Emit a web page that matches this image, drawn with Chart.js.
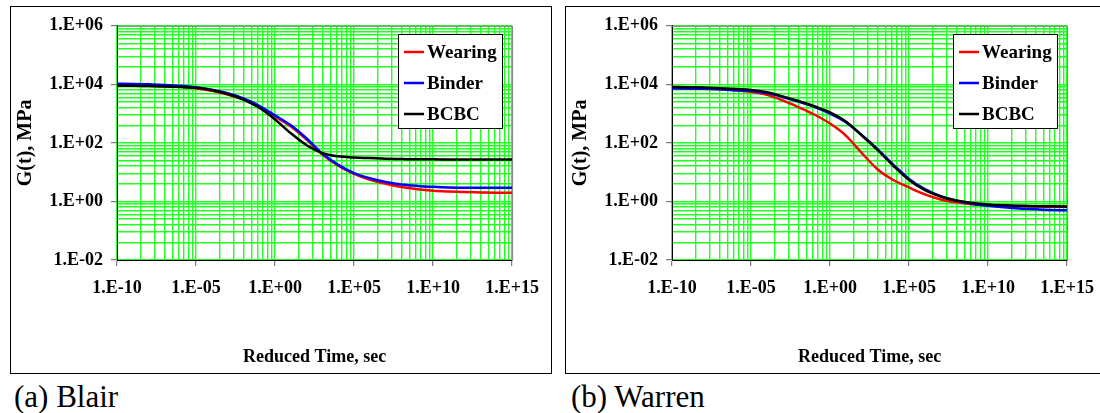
<!DOCTYPE html>
<html>
<head>
<meta charset="utf-8">
<script src="https://cdn.jsdelivr.net/npm/chart.js@4.4.1/dist/chart.umd.min.js"></script>
<style>
  body { margin: 0; background: #fff; width: 1100px; height: 413px; overflow: hidden; position: relative;
         font-family: 'Liberation Serif', 'Times New Roman', serif; }
  .panel { position: absolute; top: 6px; width: 540px; height: 366px; border: 1px solid #000; background: #fff; }
  .panel canvas { display: block; }
  .cap { position: absolute; top: 381px; font-size: 31px; line-height: 31px; color: #000; white-space: nowrap; }
</style>
</head>
<body>
<div class="panel" style="left:10px"><canvas id="blair" width="540" height="366"></canvas></div>
<div class="panel" style="left:565px"><canvas id="warren" width="540" height="366"></canvas></div>
<div class="cap" style="left:14px">(a) Blair</div>
<div class="cap" style="left:571px">(b) Warren</div>
<script>
// reduced time, sec (one point per decade)
const reducedTime = [1e-10, 1e-9, 1e-8, 1e-7, 1e-6, 1e-5, 1e-4, 1e-3, 1e-2, 1e-1, 1e0,
                     1e1, 1e2, 1e3, 1e4, 1e5, 1e6, 1e7, 1e8, 1e9, 1e10, 1e11, 1e12, 1e13, 1e14, 1e15];

// G(t), MPa  -- (a) Blair
const blairWearing = [9550, 9400, 9120, 8710, 8320, 7410, 6030, 4470, 3020, 1700, 794,
                      363, 129, 39.8, 16.6, 8.7, 5.5, 4.0, 3.1, 2.63, 2.34, 2.19, 2.09, 2.04, 2.0, 2.0];
const blairBinder  = [10500, 10350, 10000, 9550, 8910, 7940, 6610, 5010, 3310, 1860, 871,
                      398, 141, 42.7, 17.8, 9.3, 6.2, 4.6, 3.8, 3.4, 3.16, 3.0, 2.95, 2.92, 2.92, 2.92];
const blairBCBC    = [8910, 8910, 8710, 8510, 8130, 7590, 6310, 4680, 3020, 1580, 631,
                      214, 83, 44.7, 34.7, 31.6, 30.2, 28.8, 28.2, 27.5, 27.5, 27.2, 26.9, 26.9, 26.9, 26.9];

// G(t), MPa  -- (b) Warren
const warrenWearing = [7590, 7410, 7240, 6920, 6310, 5500, 4370, 2820, 1660, 933, 457,
                       178, 45.7, 12.6, 5.4, 3.0, 1.75, 1.17, 0.93, 0.81, 0.76, 0.72, 0.69, 0.68, 0.66, 0.66];
const warrenBinder  = [7240, 7240, 7080, 6760, 6310, 5890, 5010, 3720, 2570, 1700, 1000,
                       513, 186, 61.7, 18.2, 5.9, 2.63, 1.51, 1.05, 0.83, 0.71, 0.63, 0.575, 0.54, 0.51, 0.5];
const warrenBCBC    = [8130, 7940, 7760, 7410, 6920, 6460, 5370, 3890, 2690, 1780, 1100,
                       537, 182, 57.5, 16.6, 5.4, 2.45, 1.48, 1.07, 0.89, 0.79, 0.74, 0.71, 0.69, 0.68, 0.66];

const seriesNames  = ['Wearing', 'Binder', 'BCBC'];
const seriesColors = ['#ff0000', '#0000ff', '#000000'];

const xTickValues = [1e-10, 1e-5, 1e0, 1e5, 1e10, 1e15];
const xTickLabels = ['1.E-10', '1.E-05', '1.E+00', '1.E+05', '1.E+10', '1.E+15'];
const yTickValues = [1e-2, 1e0, 1e2, 1e4, 1e6];
const yTickLabels = ['1.E-02', '1.E+00', '1.E+02', '1.E+04', '1.E+06'];

const FONT = "'Liberation Serif', 'Times New Roman', serif";

// excel style log grid: 8 minor lines inside every major step
function gridTicks(majors, power) {
  const out = [];
  majors.forEach((m, j) => {
    out.push({ value: m, major: true });
    if (j < majors.length - 1) {
      for (let n = 2; n <= 9; n++) out.push({ value: m * Math.pow(n, power), major: false });
    }
  });
  return out;
}

function labelFor(v, values, labels) {
  for (let j = 0; j < values.length; j++) {
    if (Math.abs(Math.log10(v) - Math.log10(values[j])) < 1e-6) return labels[j];
  }
  return '';
}

const plotFrame = {
  id: 'plotFrame',
  beforeDatasetsDraw(chart) {
    const { ctx, chartArea: a } = chart;
    ctx.save();
    ctx.strokeStyle = '#808080';
    ctx.lineWidth = 1;
    ctx.beginPath();
    ctx.moveTo(a.left, a.top + 0.5);
    ctx.lineTo(a.right + 0.5, a.top + 0.5);
    ctx.lineTo(a.right + 0.5, a.bottom);
    ctx.stroke();
    ctx.restore();
  }
};

const boxLegend = {
  id: 'boxLegend',
  afterDraw(chart) {
    const { ctx, chartArea: a } = chart;
    const w = 104, h = 94;
    const left = Math.round(a.right - 10 - w), top = Math.round(a.top + 8);
    ctx.save();
    ctx.fillStyle = '#fff';
    ctx.fillRect(left, top, w, h);
    ctx.strokeStyle = '#000';
    ctx.lineWidth = 1;
    ctx.strokeRect(left + 0.5, top + 0.5, w, h);
    ctx.font = 'bold 19px ' + FONT;
    ctx.textBaseline = 'middle';
    chart.data.datasets.forEach((ds, i) => {
      const y = top + 18 + i * 31;
      ctx.strokeStyle = ds.borderColor;
      ctx.lineWidth = 2.5;
      ctx.beginPath();
      ctx.moveTo(left + 6, y);
      ctx.lineTo(left + 26, y);
      ctx.stroke();
      ctx.fillStyle = '#000';
      ctx.fillText(ds.label, left + 29, y + 1);
    });
    ctx.restore();
  }
};

function makeChart(id, series) {
  const datasets = series.map((vals, i) => ({
    label: seriesNames[i],
    data: reducedTime.map((t, k) => ({ x: t, y: vals[k] })),
    borderColor: seriesColors[i],
    backgroundColor: seriesColors[i],
    borderWidth: 2.5,
    pointRadius: 0,
    fill: false,
    cubicInterpolationMode: 'monotone',
    order: 3 - i
  }));

  return new Chart(document.getElementById(id), {
    type: 'line',
    data: { datasets: datasets },
    options: {
      responsive: false,
      animation: false,
      layout: { padding: { left: 0, right: 34, top: 15, bottom: 0 } },
      plugins: { legend: { display: false }, tooltip: { enabled: false } },
      scales: {
        x: {
          type: 'logarithmic',
          position: 'bottom',
          min: 1e-10,
          max: 1e15,
          afterBuildTicks: s => { s.ticks = gridTicks(xTickValues, 5); },
          afterFit: s => { s.height = 113; },
          grid: {
            color: '#22ff22', lineWidth: 1.4, tickLength: 6, tickWidth: 1,
            tickColor: c => (c.tick && c.tick.major) ? '#606060' : 'rgba(0,0,0,0)'
          },
          border: { color: '#000', width: 1 },
          ticks: {
            autoSkip: false, maxRotation: 0, padding: 12, color: '#000',
            font: { family: FONT, size: 18, weight: 'bold' },
            callback: v => labelFor(v, xTickValues, xTickLabels)
          },
          title: {
            display: true, text: 'Reduced Time, sec', color: '#000',
            font: { family: FONT, size: 18, weight: 'bold' },
            padding: { top: 0, bottom: 5 }
          }
        },
        y: {
          type: 'logarithmic',
          min: 1e-2,
          max: 1e6,
          afterBuildTicks: s => { s.ticks = gridTicks(yTickValues, 2); },
          afterFit: s => { s.width = 106; },
          grid: {
            color: '#22ff22', lineWidth: 1.4, tickLength: 6, tickWidth: 1,
            tickColor: c => (c.tick && c.tick.major) ? '#606060' : 'rgba(0,0,0,0)'
          },
          border: { color: '#000', width: 1 },
          ticks: {
            autoSkip: false, padding: 8, color: '#000',
            font: { family: FONT, size: 18, weight: 'bold' },
            callback: v => labelFor(v, yTickValues, yTickLabels)
          },
          title: {
            display: true, text: 'G(t), MPa', color: '#000',
            font: { family: FONT, size: 20, weight: 'bold' },
            padding: { top: 3, bottom: 0 }
          }
        }
      }
    },
    plugins: [plotFrame, boxLegend]
  });
}

makeChart('blair', [blairWearing, blairBinder, blairBCBC]);
makeChart('warren', [warrenWearing, warrenBinder, warrenBCBC]);
</script>
</body>
</html>
